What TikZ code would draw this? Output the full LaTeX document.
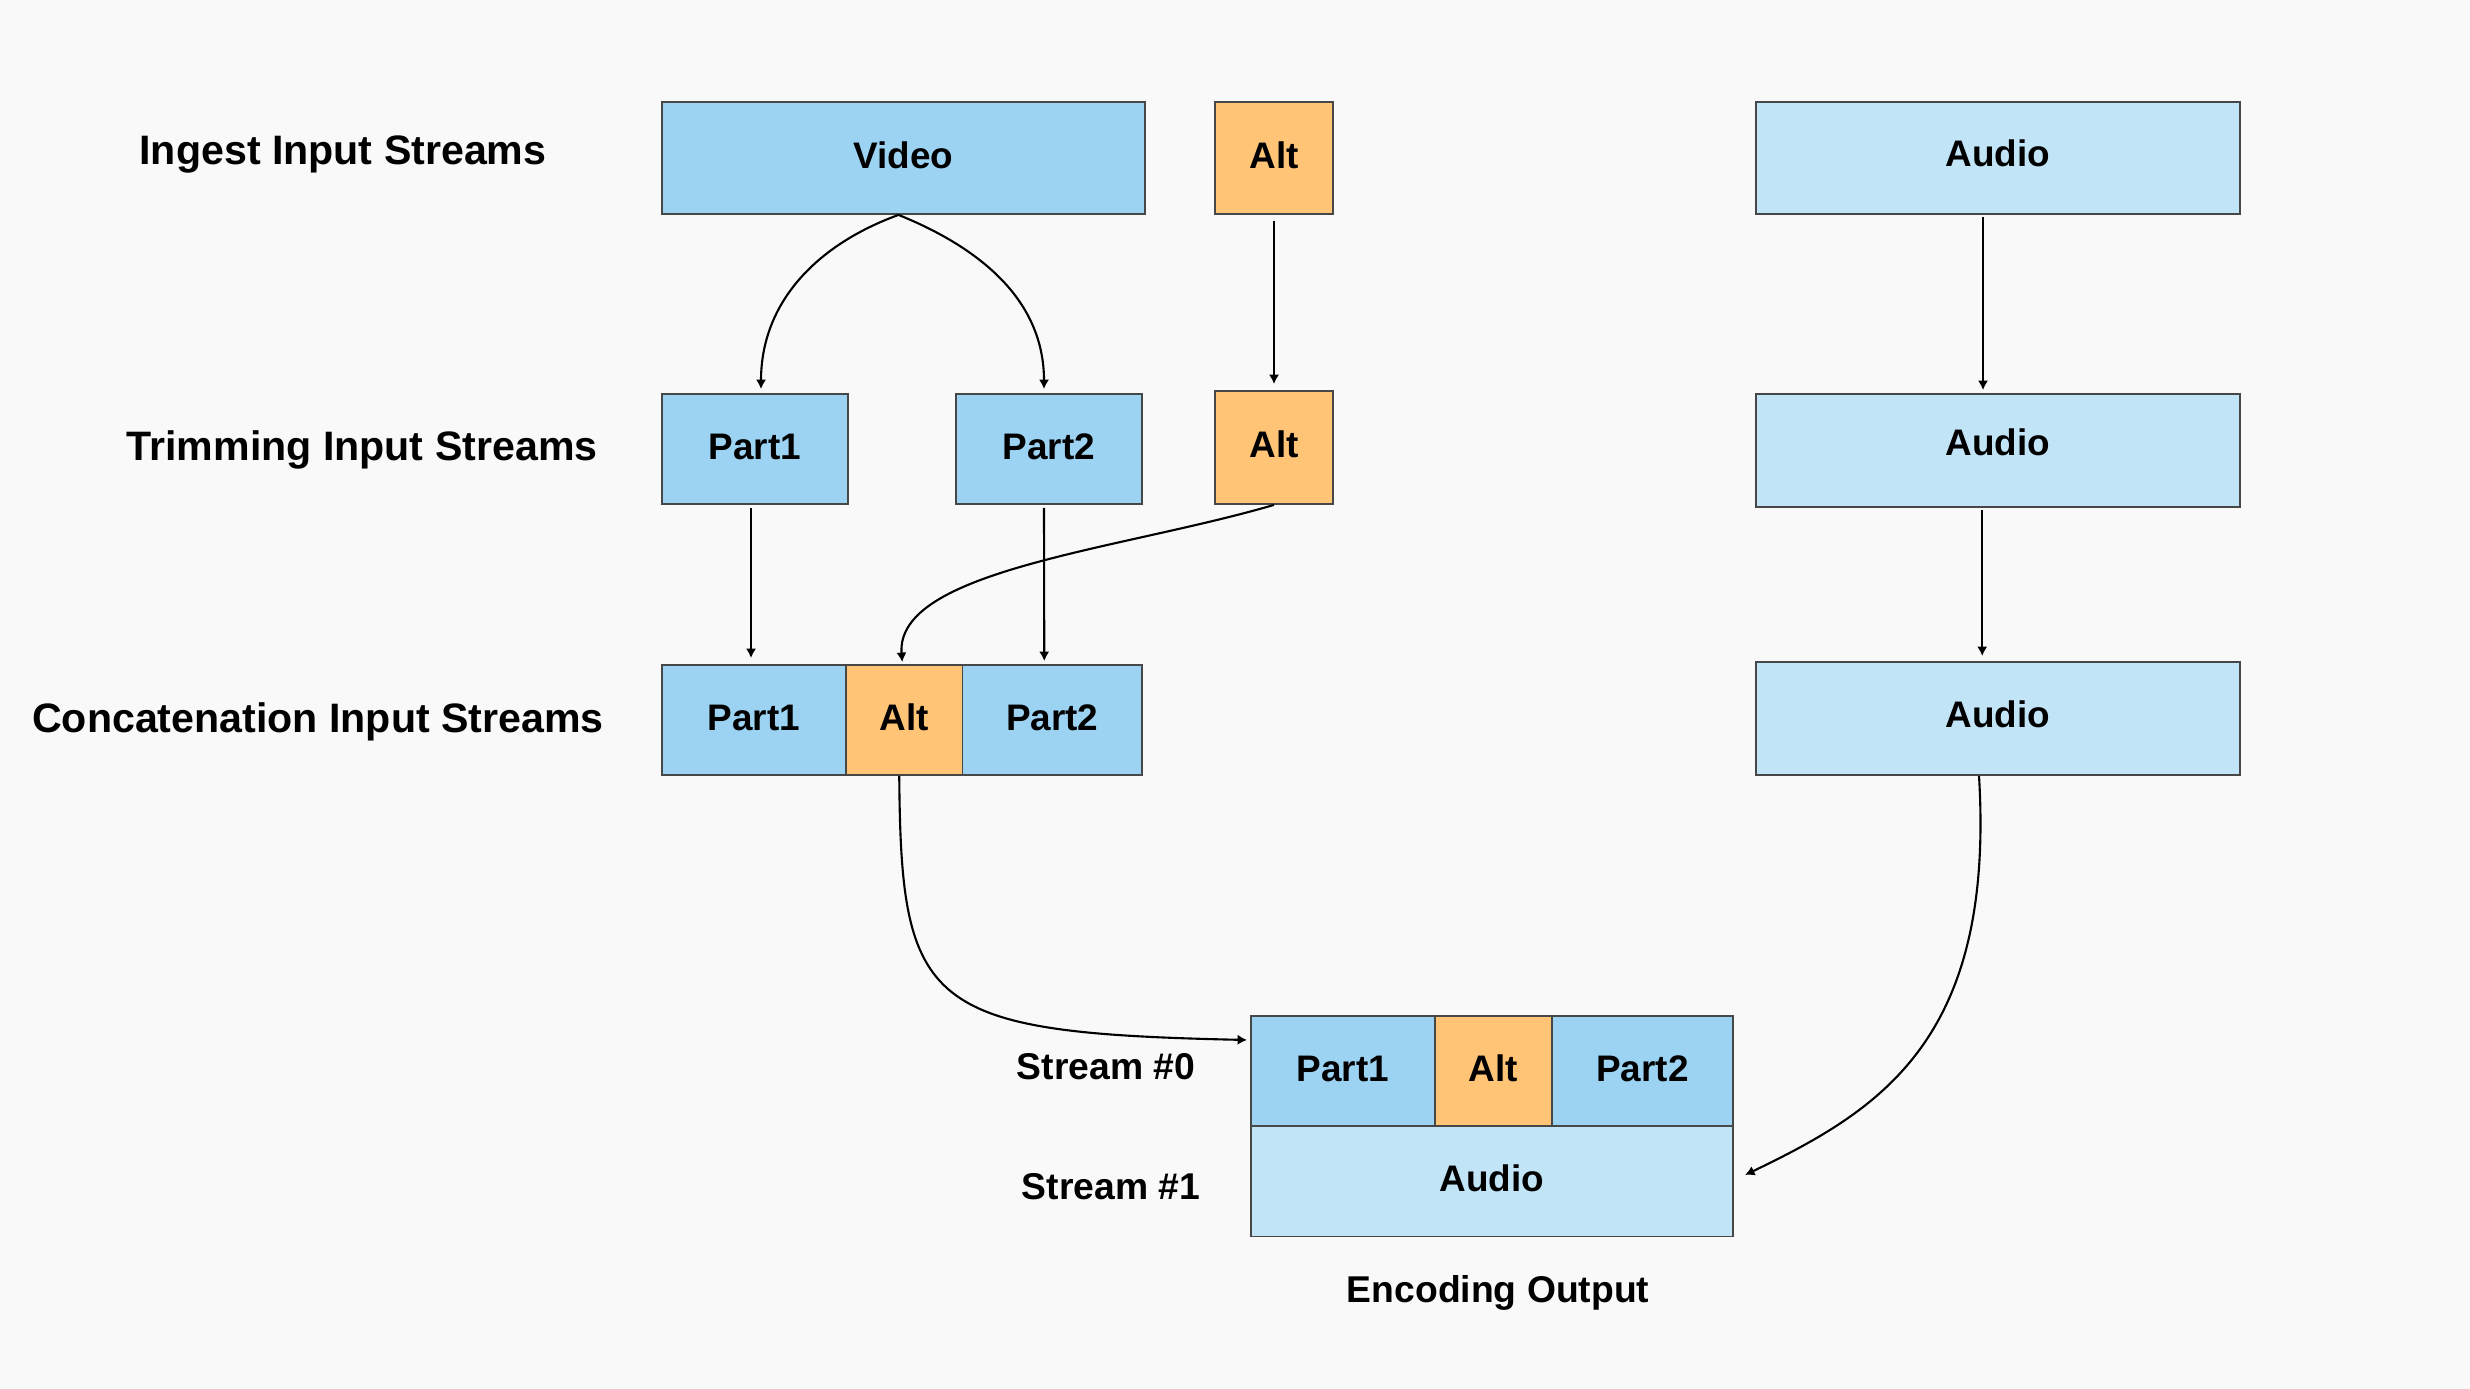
\documentclass[tikz,border=0pt]{standalone}
\usepackage{fontspec}
\setmainfont{Liberation Sans}
\usetikzlibrary{arrows.meta,calc}
\definecolor{bgc}{HTML}{F9F9F9}
\definecolor{vblue}{HTML}{9CD2F2}
\definecolor{ablue}{HTML}{C1E4F7}
\definecolor{altor}{HTML}{FFC475}
\definecolor{bord}{HTML}{474747}
\begin{document}
\begin{tikzpicture}[x=0.01cm,y=-0.01cm,
  box/.style={draw=bord,line width=0.5pt,inner sep=0pt,text height=7.6pt,text depth=1.7pt,font=\fontsize{10.5}{12}\selectfont\bfseries},
  vbox/.style={box,fill=vblue},
  abox/.style={box,fill=ablue},
  obox/.style={box,fill=altor},
  hdr/.style={inner sep=0pt,font=\fontsize{11.7}{14}\selectfont\bfseries},
  lbl/.style={inner sep=0pt,font=\fontsize{10.6}{13}\selectfont\bfseries},
  conn/.style={draw=black,line width=0.6pt,-{Latex[length=2.7pt,width=2.9pt]}}
]
\fill[bgc] (0,0) rectangle (2470,1389);
\useasboundingbox (0,0) rectangle (2470,1389);

% headers
\node[hdr] (h1) at (343,155) {Ingest Input Streams};
\node[hdr] (h2) at (362,450) {Trimming Input Streams};
\node[hdr] (h3) at (318,722) {Concatenation Input Streams};

% row 1
\node[vbox,minimum width=4.83cm,minimum height=1.12cm] (video) at (903.5,158) {Video};
\node[obox,minimum width=1.18cm,minimum height=1.12cm] (alt1) at (1274,158) {Alt};
\node[abox,minimum width=4.84cm,minimum height=1.12cm,text depth=2.6pt] (aud1) at (1998,158) {Audio};

% row 2
\node[vbox,minimum width=1.86cm,minimum height=1.10cm] (p1a) at (755,449) {Part1};
\node[vbox,minimum width=1.86cm,minimum height=1.10cm] (p2a) at (1049,449) {Part2};
\node[obox,minimum width=1.18cm,minimum height=1.13cm] (alt2) at (1274,447.5) {Alt};
\node[abox,minimum width=4.84cm,minimum height=1.13cm,text depth=5pt] (aud2) at (1998,450.5) {Audio};

% row 3
\node[vbox,minimum width=1.84cm,minimum height=1.10cm] (p1b) at (754,720) {Part1};
\node[vbox,minimum width=1.80cm,minimum height=1.10cm] (p2b) at (1052.25,720) {Part2};
\node[obox,minimum width=1.165cm,minimum height=1.10cm] (alt3) at (904.25,720) {Alt};
\node[abox,minimum width=4.84cm,minimum height=1.13cm,text depth=2.4pt] (aud3) at (1998,718.5) {Audio};

% output
\node[abox,minimum width=4.82cm,minimum height=1.10cm] (oaud) at (1492,1181.5) {Audio};
\node[vbox,minimum width=1.84cm,minimum height=1.10cm] (op1) at (1343,1071) {Part1};
\node[vbox,minimum width=1.81cm,minimum height=1.10cm] (op2) at (1642.4,1071) {Part2};
\node[obox,minimum width=1.166cm,minimum height=1.10cm] (oalt) at (1493.4,1071) {Alt};

\node[lbl] (s0) at (1106,1067) {Stream \#0};
\node[lbl] (s1) at (1111,1187) {Stream \#1};
\node[lbl] (enc) at (1498,1293) {Encoding Output};

% connectors
\draw[conn] ([xshift=-0.05cm]video.south) to[out=200,in=90] ([xshift=0.06cm,yshift=0.04cm]p1a.north);
\draw[conn] ([xshift=-0.05cm]video.south) to[out=-22,in=90] ([xshift=-0.05cm,yshift=0.04cm]p2a.north);
\draw[conn] ([yshift=-0.06cm]alt1.south) -- ([yshift=0.06cm]alt2.north);
\draw[conn] ([xshift=-0.15cm,yshift=-0.02cm]aud1.south) -- ([xshift=-0.15cm,yshift=0.03cm]aud2.north);
\draw[conn] ([xshift=-0.04cm,yshift=-0.03cm]p1a.south) -- ([xshift=-0.03cm,yshift=0.06cm]p1b.north);
\draw[conn] ([xshift=-0.05cm,yshift=-0.03cm]p2a.south) -- ([xshift=-0.08cm,yshift=0.03cm]p2b.north);
\draw[conn] (alt2.south) .. controls (1120,550) and (895,570) .. ([xshift=-0.02cm,yshift=0.02cm]alt3.north);
\draw[conn] ([xshift=-0.158cm,yshift=-0.02cm]aud2.south) -- ([xshift=-0.158cm,yshift=0.05cm]aud3.north);
\draw[conn] ([xshift=-0.05cm]alt3.south) .. controls (901,1008) and (925,1033) .. ([xshift=-0.03cm,yshift=0.31cm]op1.west);
\draw[conn] ([xshift=-0.19cm]aud3.south) .. controls (1995,1040) and (1880,1110) .. ([xshift=0.11cm,yshift=0.065cm]oaud.east);
\end{tikzpicture}
\end{document}
